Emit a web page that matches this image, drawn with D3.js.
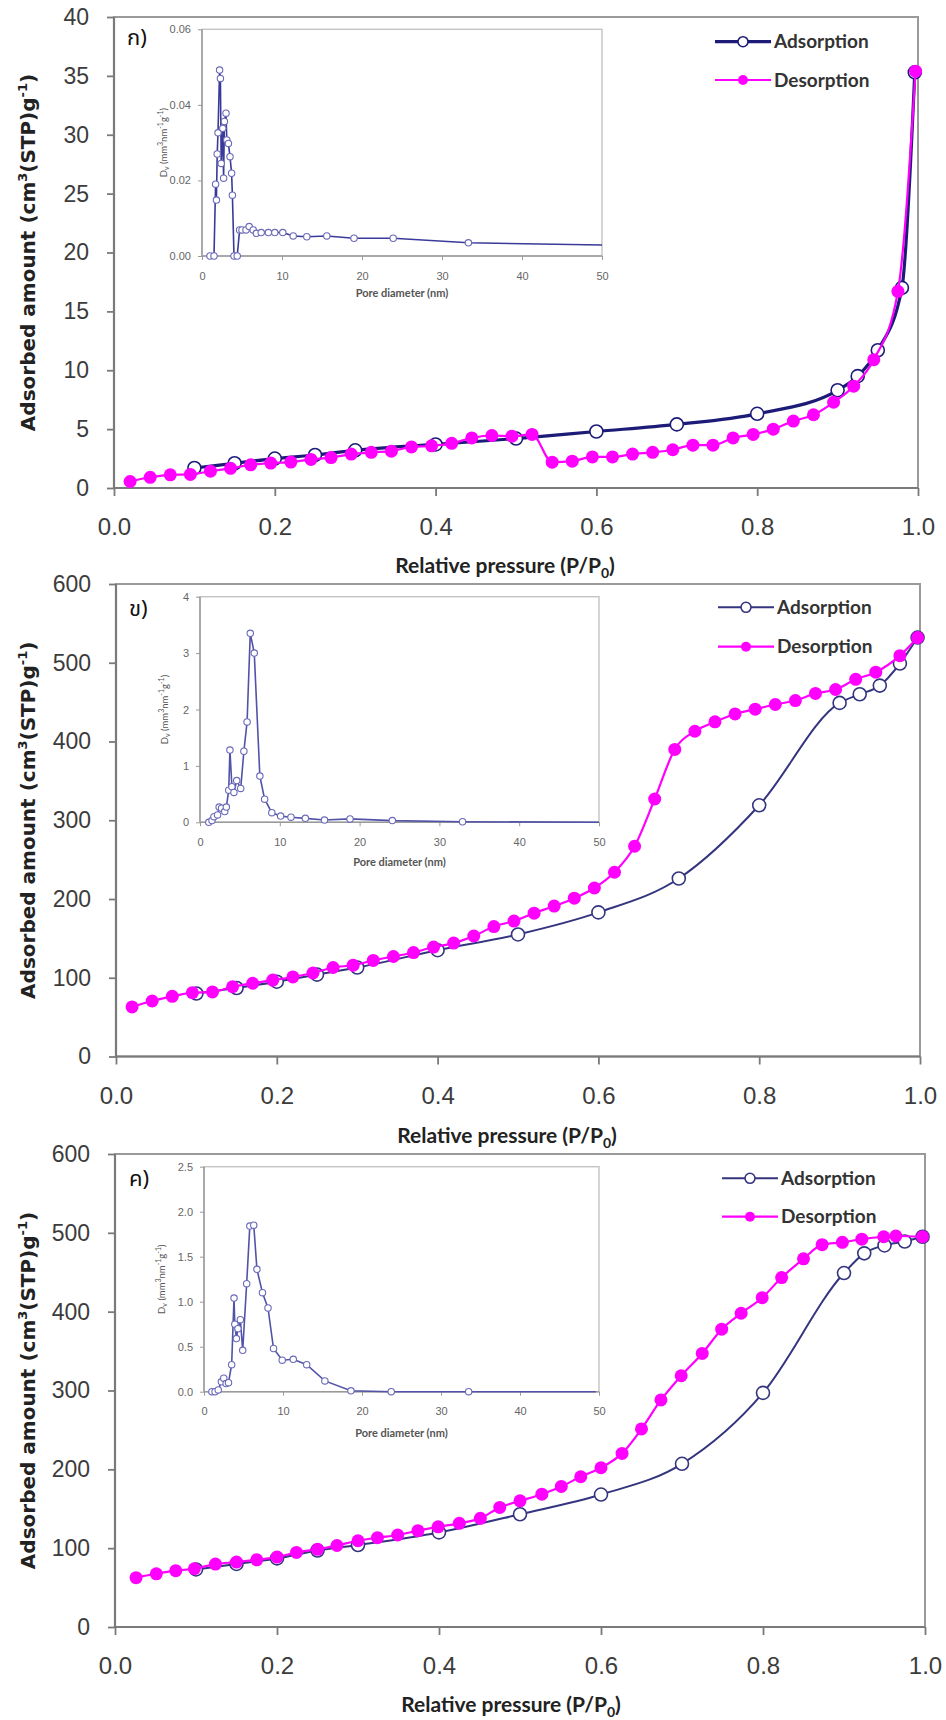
<!DOCTYPE html>
<html><head><meta charset="utf-8">
<script src="https://cdn.jsdelivr.net/npm/d3@7"></script>
<style>html,body{margin:0;padding:0;background:#fff;} svg{display:block;}</style>
</head><body>
<svg id="chart" width="946" height="1720"></svg>
<script>
// ---------- shared categories / ticks ----------
const seriesNames = ["Adsorption", "Desorption"];
const panelLabels = ["ก)", "ข)", "ค)"];
const pressureTicks = [0, 0.2, 0.4, 0.6, 0.8, 1.0];
const yTicksA = [0, 5, 10, 15, 20, 25, 30, 35, 40];
const yTicksB = [0, 100, 200, 300, 400, 500, 600];
const poreTicks = [0, 10, 20, 30, 40, 50];
const insetTicksA = [0, 0.02, 0.04, 0.06];
const insetTicksB = [0, 1, 2, 3, 4];
const insetTicksC = [0, 0.5, 1.0, 1.5, 2.0, 2.5];

// ---------- panel ก ----------
const adsX_A = [0.1, 0.15, 0.2, 0.25, 0.3, 0.4, 0.5, 0.6, 0.7, 0.8, 0.9, 0.925, 0.95, 0.98, 0.996];
const adsY_A = [1.7, 2.1, 2.5, 2.8, 3.2, 3.7, 4.2, 4.8, 5.4, 6.3, 8.3, 9.5, 11.7, 17.0, 35.3];
const desX_AB = [0.02, 0.045, 0.07, 0.095, 0.12, 0.145, 0.17, 0.195, 0.22, 0.245,
                 0.27, 0.295, 0.32, 0.345, 0.37, 0.395, 0.42, 0.445, 0.47, 0.495,
                 0.52, 0.545, 0.57, 0.595, 0.62, 0.645, 0.67, 0.695, 0.72, 0.745,
                 0.77, 0.795, 0.82, 0.845, 0.87, 0.895, 0.92, 0.945, 0.975, 0.997];
const desY_A = [0.55, 0.91, 1.12, 1.15, 1.43, 1.67, 1.97, 2.12, 2.2, 2.43,
                2.58, 2.88, 3.03, 3.13, 3.49, 3.58, 3.79, 4.25, 4.46, 4.4,
                4.55, 2.19, 2.28, 2.64, 2.64, 2.88, 3.03, 3.25, 3.64, 3.64,
                4.25, 4.55, 5.0, 5.68, 6.22, 7.28, 8.65, 10.9, 16.7, 35.4];
const poreD_A = [1.0, 1.5, 1.7, 1.8, 1.9, 2.0, 2.2, 2.3, 2.4, 2.6, 2.7, 2.8, 3.0, 3.1, 3.3, 3.5, 3.7, 3.8,
                 4.0, 4.4, 4.7, 5.0, 5.5, 5.9, 6.4, 6.8, 7.4, 8.3, 9.1, 10.1, 11.4, 13.1, 15.6, 19.0, 23.9, 33.3, 50];
const poreV_A = [0, 0, 0.019, 0.0148, 0.027, 0.0326, 0.0492, 0.047, 0.0245, 0.0338, 0.0206, 0.0356, 0.0378,
                 0.0307, 0.0298, 0.0263, 0.0219, 0.0161, 0, 0, 0.0069, 0.0069, 0.0069, 0.0078, 0.0069, 0.006,
                 0.0062, 0.0062, 0.0062, 0.0062, 0.0053, 0.0051, 0.0053, 0.0047, 0.0047, 0.0035, 0.0029];

// ---------- panel ข ----------
const adsX_B = [0.1, 0.15, 0.2, 0.25, 0.3, 0.4, 0.5, 0.6, 0.7, 0.8, 0.9, 0.925, 0.95, 0.975, 0.997];
const adsY_B = [80, 87, 95, 104, 113, 135, 155, 183, 226, 319, 449, 460, 471, 499, 532];
const desY_B = [63, 70.5, 76.4, 81, 82, 88.6, 93, 97, 101, 106,
                113, 116, 122, 127, 132, 139, 144, 153, 165, 172,
                182, 191, 201, 214, 234, 267, 327, 390, 413, 425,
                435, 441, 447, 452, 461, 466, 479, 488, 509, 532];
const poreD_B = [1.1, 1.5, 1.75, 2.2, 2.4, 2.7, 3.1, 3.3, 3.6, 3.75, 4.0, 4.25, 4.6, 5.1, 5.5, 5.9, 6.3, 6.8,
                 7.5, 8.1, 9.0, 10.1, 11.4, 13.2, 15.6, 18.8, 24.1, 32.9, 50];
const poreV_B = [0, 0.03, 0.1, 0.13, 0.27, 0.25, 0.19, 0.27, 0.57, 1.28, 0.63, 0.53, 0.74, 0.6, 1.26, 1.78, 3.35, 3.0,
                 0.82, 0.41, 0.17, 0.11, 0.09, 0.07, 0.04, 0.06, 0.03, 0.01, 0];

// ---------- panel ค ----------
const adsX_C = [0.1, 0.15, 0.2, 0.25, 0.3, 0.4, 0.5, 0.6, 0.7, 0.8, 0.9, 0.925, 0.95, 0.975, 0.997];
const adsY_C = [73, 80, 87, 97, 104, 120, 143, 168, 207, 297, 449, 474, 484, 489, 495];
const desX_C = [0.026, 0.051, 0.075, 0.098, 0.124, 0.15, 0.175, 0.2, 0.224, 0.25,
                0.274, 0.3, 0.324, 0.349, 0.374, 0.399, 0.425, 0.451, 0.475, 0.5,
                0.527, 0.551, 0.575, 0.6, 0.626, 0.65, 0.674, 0.699, 0.725, 0.749,
                0.773, 0.799, 0.823, 0.85, 0.873, 0.898, 0.922, 0.949, 0.964, 0.997];
const desY_C = [62.6, 67.5, 71.4, 73.9, 79.8, 82.3, 85.2, 88.7, 94.6, 98.5,
                103.4, 109.4, 113.3, 116.7, 122.2, 127.1, 131.5, 137.9, 151.7, 160,
                168.5, 178.3, 190.6, 202, 220.2, 251.2, 288, 318.7, 347, 377.8,
                398, 417.7, 443.3, 467, 485, 488, 492, 495, 496, 495];
const poreD_C = [1.0, 1.4, 1.8, 2.2, 2.5, 2.8, 3.1, 3.5, 3.8, 3.9, 4.1, 4.3, 4.6, 4.9, 5.4, 5.8, 6.3, 6.7, 7.4,
                 8.1, 8.8, 9.9, 11.3, 13.0, 15.3, 18.6, 23.7, 33.5, 49.6];
const poreV_C = [0, 0, 0.02, 0.11, 0.15, 0.09, 0.1, 0.3, 1.04, 0.75, 0.59, 0.7, 0.8, 0.46, 1.2, 1.84, 1.85, 1.36, 1.1,
                 0.93, 0.48, 0.35, 0.36, 0.3, 0.12, 0.01, 0, 0, 0];

// ---------- drawing ----------
const svg = d3.select("#chart");
const zip = (xs, ys) => xs.map((x, i) => ({x, y: ys[i]}));
const MAG = "#ff00ff";

function drawPanel(o) {
  const g = svg.append("g");
  const x = d3.scaleLinear().domain([0, 1]).range([o.x0, o.x1]);
  const y = d3.scaleLinear().domain([0, o.yTicks[o.yTicks.length - 1]]).range([o.yB, o.yT]);

  // frame
  g.append("rect").attr("x", o.x0).attr("y", o.yT).attr("width", o.x1 - o.x0).attr("height", o.yB - o.yT)
    .attr("fill", "none").attr("stroke", "#9a9a9a").attr("stroke-width", 2);

  // axes
  const ya = g.append("g").attr("transform", `translate(${o.x0},0)`)
    .call(d3.axisLeft(y).tickValues(o.yTicks).tickSize(7).tickPadding(18).tickFormat(d3.format("d")));
  const xa = g.append("g").attr("transform", `translate(0,${o.yB})`)
    .call(d3.axisBottom(x).tickValues(pressureTicks).tickSize(8).tickPadding(22).tickFormat(d3.format(".1f")));
  [ya, xa].forEach(a => {
    a.select(".domain").attr("stroke", "#7a7a7a").attr("stroke-width", 2.2);
    a.selectAll(".tick line").attr("stroke", "#7a7a7a").attr("stroke-width", 1.8);
    a.selectAll(".tick text").attr("fill", "#3c3c3c").attr("font-family", "'Liberation Sans', Arial, sans-serif");
  });
  ya.selectAll(".tick text").attr("font-size", 23);
  xa.selectAll(".tick text").attr("font-size", 24);
  xa.select(".domain").attr("d", `M${o.x0},0H${o.x1}`);
  ya.select(".domain").attr("d", `M0,${o.yB}V${o.yT}`);

  // axis titles
  const xt = g.append("text").attr("x", o.xTitleX).attr("y", o.xTitleY)
    .attr("text-anchor", "middle").attr("font-family", "Lato, 'Open Sans', sans-serif")
    .attr("font-weight", "bold").attr("font-size", 21).attr("fill", "#222");
  xt.append("tspan").text("Relative pressure (P/P");
  xt.append("tspan").attr("font-size", 14).attr("dy", 5).text("0");
  xt.append("tspan").attr("dy", -5).text(")");

  const yt = g.append("text")
    .attr("transform", `translate(28,${(o.yT + o.yB) / 2}) rotate(-90)`)
    .attr("text-anchor", "middle").attr("dy", "0.35em")
    .attr("font-family", "'DejaVu Sans', Verdana, sans-serif").attr("font-weight", "bold")
    .attr("font-size", 20).attr("fill", "#222");
  yt.append("tspan").text("Adsorbed amount  (cm");
  yt.append("tspan").attr("font-size", 13).attr("dy", -8).text("3");
  yt.append("tspan").attr("dy", 8).text("(STP)g");
  yt.append("tspan").attr("font-size", 13).attr("dy", -8).text("-1");
  yt.append("tspan").attr("dy", 8).text(")");

  // panel label
  g.append("text").attr("x", o.labelX).attr("y", o.labelY).attr("dy", "0.35em")
    .attr("font-family", "'Noto Sans Thai', 'Noto Sans Thai UI', Loma, Garuda, 'Noto Sans', sans-serif")
    .attr("font-size", 22).attr("fill", "#111").text(o.label);

  // series
  const ads = zip(o.adsX, o.adsY), des = zip(o.desX, o.desY);
  const line = d3.line().x(d => x(d.x)).y(d => y(d.y)).curve(d3.curveMonotoneX);
  g.append("path").attr("d", line(ads)).attr("fill", "none")
    .attr("stroke", o.adsColor).attr("stroke-width", o.adsWidth);
  g.selectAll(null).data(ads).join("circle").attr("cx", d => x(d.x)).attr("cy", d => y(d.y)).attr("r", 6.5)
    .attr("fill", "#fff").attr("stroke", o.adsColor).attr("stroke-width", 1.6);
  g.append("path").attr("d", line(des)).attr("fill", "none").attr("stroke", MAG).attr("stroke-width", 2.2);
  g.selectAll(null).data(des).join("circle").attr("cx", d => x(d.x)).attr("cy", d => y(d.y)).attr("r", 6.5)
    .attr("fill", MAG);

  // legend
  const lg = g.append("g");
  seriesNames.forEach((name, i) => {
    const ly = o.legY + i * o.legGap;
    const col = i === 0 ? o.adsColor : MAG;
    lg.append("line").attr("x1", o.legX).attr("x2", o.legX + 56).attr("y1", ly).attr("y2", ly)
      .attr("stroke", col).attr("stroke-width", i === 0 ? o.adsWidth : 2.2);
    if (i === 0) lg.append("circle").attr("cx", o.legX + 28).attr("cy", ly).attr("r", 5)
      .attr("fill", "#fff").attr("stroke", col).attr("stroke-width", 1.6);
    else lg.append("circle").attr("cx", o.legX + 28).attr("cy", ly).attr("r", 5).attr("fill", MAG);
    lg.append("text").attr("x", o.legX + 59).attr("y", ly).attr("dy", "0.35em")
      .attr("font-family", "Lato, sans-serif").attr("font-weight", "bold").attr("font-size", 19)
      .attr("fill", "#333").text(name);
  });

  // inset
  const ix = d3.scaleLinear().domain([0, 50]).range([o.ix0, o.ix1]);
  const iy = d3.scaleLinear().domain([0, o.iTicks[o.iTicks.length - 1]]).range([o.iyB, o.iyT]);
  const ig = g.append("g");
  ig.append("rect").attr("x", o.ix0).attr("y", o.iyT).attr("width", o.ix1 - o.ix0).attr("height", o.iyB - o.iyT)
    .attr("fill", "#fff").attr("stroke", "#c4c4c4").attr("stroke-width", 1.4);
  const iya = ig.append("g").attr("transform", `translate(${o.ix0},0)`)
    .call(d3.axisLeft(iy).tickValues(o.iTicks).tickSize(4).tickPadding(7).tickFormat(d3.format(o.iFmt)));
  const ixa = ig.append("g").attr("transform", `translate(0,${o.iyB})`)
    .call(d3.axisBottom(ix).tickValues(poreTicks).tickSize(4).tickPadding(12).tickFormat(d3.format("d")));
  [iya, ixa].forEach(a => {
    a.select(".domain").attr("stroke", "#9a9a9a").attr("stroke-width", 1.5);
    a.selectAll(".tick line").attr("stroke", "#9a9a9a");
    a.selectAll(".tick text").attr("fill", "#666").attr("font-size", 11)
      .attr("font-family", "'Liberation Sans', Arial, sans-serif");
  });
  ixa.select(".domain").attr("d", `M${o.ix0},0H${o.ix1}`);
  iya.select(".domain").attr("d", `M0,${o.iyB}V${o.iyT}`);

  ig.append("text").attr("x", (o.ix0 + o.ix1) / 2).attr("y", o.iTitleY)
    .attr("text-anchor", "middle").attr("font-family", "Lato, sans-serif").attr("font-weight", "bold")
    .attr("font-size", 11).attr("fill", "#555").text("Pore diameter (nm)");
  const iyt = ig.append("text")
    .attr("transform", `translate(${o.iyTitleX},${(o.iyT + o.iyB) / 2}) rotate(-90)`)
    .attr("text-anchor", "middle").attr("dy", "0.35em")
    .attr("font-family", "Lato, sans-serif").attr("font-size", 9.5).attr("fill", "#555");
  iyt.append("tspan").text("D");
  iyt.append("tspan").attr("font-size", 7).attr("dy", 2).text("v");
  iyt.append("tspan").attr("dy", -2).text(" (mm");
  iyt.append("tspan").attr("font-size", 7).attr("dy", -4).text("3");
  iyt.append("tspan").attr("dy", 4).text("nm");
  iyt.append("tspan").attr("font-size", 7).attr("dy", -4).text("-1");
  iyt.append("tspan").attr("dy", 4).text("g");
  iyt.append("tspan").attr("font-size", 7).attr("dy", -4).text("-1");
  iyt.append("tspan").attr("dy", 4).text(")");

  const pore = zip(o.poreD, o.poreV);
  const iline = d3.line().x(d => ix(d.x)).y(d => iy(d.y));
  ig.append("path").attr("d", iline(pore)).attr("fill", "none")
    .attr("stroke", o.iColor).attr("stroke-width", 1.6);
  ig.selectAll(null).data(pore.slice(0, -1)).join("circle").attr("cx", d => ix(d.x)).attr("cy", d => iy(d.y))
    .attr("r", 3.2).attr("fill", "#fff").attr("stroke", "#6a6ab8").attr("stroke-width", 1.1);
}

drawPanel({
  x0: 114, x1: 918, yT: 17, yB: 488, yTicks: yTicksA,
  xTitleX: 505, xTitleY: 573, label: panelLabels[0], labelX: 127, labelY: 37,
  adsX: adsX_A, adsY: adsY_A, desX: desX_AB, desY: desY_A,
  adsColor: "#1c1c78", adsWidth: 3.2,
  legX: 715, legY: 41.7, legGap: 38.3,
  ix0: 202, ix1: 602, iyT: 29.3, iyB: 256, iTicks: insetTicksA, iFmt: ".2f",
  iTitleY: 297, iyTitleX: 164, poreD: poreD_A, poreV: poreV_A, iColor: "#3a3a9a"
});
drawPanel({
  x0: 116, x1: 920, yT: 584, yB: 1056.5, yTicks: yTicksB,
  xTitleX: 507, xTitleY: 1143, label: panelLabels[1], labelX: 129, labelY: 608,
  adsX: adsX_B, adsY: adsY_B, desX: desX_AB, desY: desY_B,
  adsColor: "#34347f", adsWidth: 2,
  legX: 718, legY: 607.3, legGap: 39.4,
  ix0: 200, ix1: 599, iyT: 596.7, iyB: 822.3, iTicks: insetTicksB, iFmt: "d",
  iTitleY: 866, iyTitleX: 165, poreD: poreD_B, poreV: poreV_B, iColor: "#5252a8"
});
drawPanel({
  x0: 115, x1: 925, yT: 1154, yB: 1627, yTicks: yTicksB,
  xTitleX: 511, xTitleY: 1712, label: panelLabels[2], labelX: 129, labelY: 1178,
  adsX: adsX_C, adsY: adsY_C, desX: desX_C, desY: desY_C,
  adsColor: "#34347f", adsWidth: 2,
  legX: 722, legY: 1178.3, legGap: 38.4,
  ix0: 204, ix1: 599, iyT: 1166.7, iyB: 1391.7, iTicks: insetTicksC, iFmt: ".1f",
  iTitleY: 1436.5, iyTitleX: 162, poreD: poreD_C, poreV: poreV_C, iColor: "#5252a8"
});
</script>
</body></html>
